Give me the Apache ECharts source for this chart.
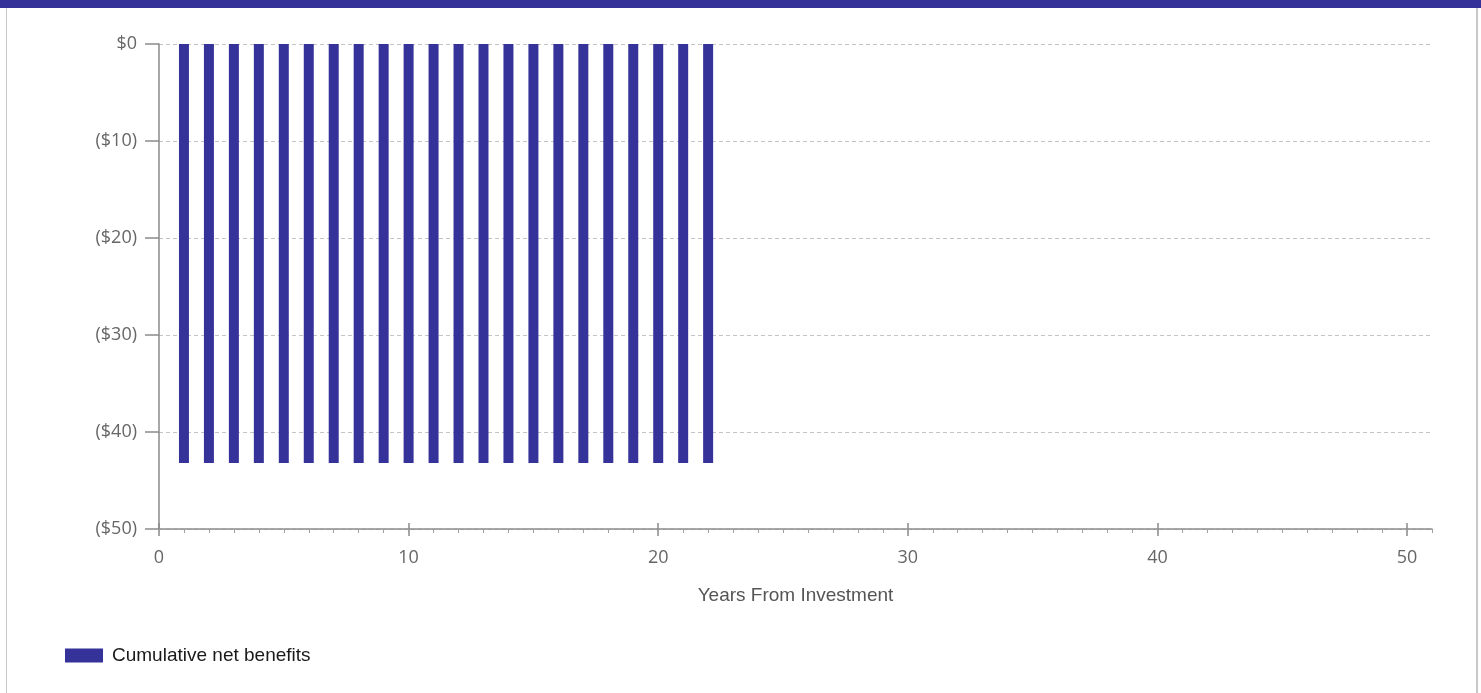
<!DOCTYPE html>
<html>
<head>
<meta charset="utf-8">
<script src="https://cdn.jsdelivr.net/npm/echarts@6/dist/echarts.min.js"></script>
<style>
html,body{margin:0;padding:0;background:#fff;}
#band{position:absolute;left:0;top:0;width:1481px;height:8px;background:#35339a;}
#frame{position:absolute;left:6px;top:8px;width:1469px;height:685px;border-left:1px solid #c8c8c8;border-right:2px solid #c8c8c8;}
#chart{position:absolute;left:0;top:0;width:1481px;height:693px;}
</style>
</head>
<body>
<div id="band"></div>
<div id="frame"></div>
<div id="chart"></div>
<script>
const years = [1,2,3,4,5,6,7,8,9,10,11,12,13,14,15,16,17,18,19,20,21,22];
const netBenefits = [-43.2,-43.2,-43.2,-43.2,-43.2,-43.2,-43.2,-43.2,-43.2,-43.2,-43.2,-43.2,-43.2,-43.2,-43.2,-43.2,-43.2,-43.2,-43.2,-43.2,-43.2,-43.2];
const xMajorTicks = [0,10,20,30,40,50];
const xMinorTicks = [0,1,2,3,4,5,6,7,8,9,10,11,12,13,14,15,16,17,18,19,20,21,22,23,24,25,26,27,28,29,30,31,32,33,34,35,36,37,38,39,40,41,42,43,44,45,46,47,48,49,50,51];
const seriesName = 'Cumulative net benefits';
const xName = 'Years From Investment';

const chart = echarts.init(document.getElementById('chart'));
const axisColor = '#8a8a8a';
const labelFont = {color:'#666666', fontSize:18, fontFamily:'Open Sans'};
const baseX = {type:'value', min:0, max:51, position:'bottom', gridIndex:0};
chart.setOption({
  animation:false,
  grid:{left:159, right:49, top:44, bottom:164},
  legend:{
    left:65, top:646, padding:0, itemWidth:38, itemHeight:14, icon:'rect',
    textStyle:{fontSize:19, color:'#1a1a1a', fontFamily:'Liberation Sans', padding:[0,0,0,4]},
    data:[seriesName]
  },
  xAxis:[
    Object.assign({}, baseX, {
      name:xName, nameLocation:'middle', nameGap:57,
      nameTextStyle:{color:'#555555', fontSize:19, fontFamily:'Liberation Sans'},
      axisLine:{show:true, onZero:false, lineStyle:{color:axisColor, width:1.5}},
      axisTick:{show:true, customValues:xMajorTicks, length:7, lineStyle:{color:axisColor, width:1.5}},
      axisLabel:Object.assign({customValues:xMajorTicks, margin:20}, labelFont),
      splitLine:{show:false}
    }),
    Object.assign({}, baseX, {
      axisLine:{show:false, onZero:false},
      axisTick:{show:true, inside:true, customValues:xMajorTicks, length:6, lineStyle:{color:axisColor, width:1.5}},
      axisLabel:{show:false},
      splitLine:{show:false}
    }),
    Object.assign({}, baseX, {
      axisLine:{show:false, onZero:false},
      axisTick:{show:true, customValues:xMinorTicks, length:4, lineStyle:{color:'#a0a0a0', width:1}},
      axisLabel:{show:false},
      splitLine:{show:false}
    })
  ],
  yAxis:{
    type:'value', min:-50, max:0, interval:10,
    axisLine:{show:true, lineStyle:{color:axisColor, width:1.5}},
    axisTick:{show:true, length:14, lineStyle:{color:axisColor, width:1.5}},
    axisLabel:Object.assign({margin:22, formatter:function(v){return v===0?'$0':'($'+Math.abs(v)+')';}}, labelFont),
    splitLine:{show:true, lineStyle:{color:'#c4c4c4', type:[4,3], width:1}}
  },
  series:[{
    name:seriesName, type:'bar', xAxisIndex:0, barWidth:10,
    itemStyle:{color:'#35339a'},
    data:years.map((y,i)=>[y, netBenefits[i]])
  }]
});
</script>
</body>
</html>
